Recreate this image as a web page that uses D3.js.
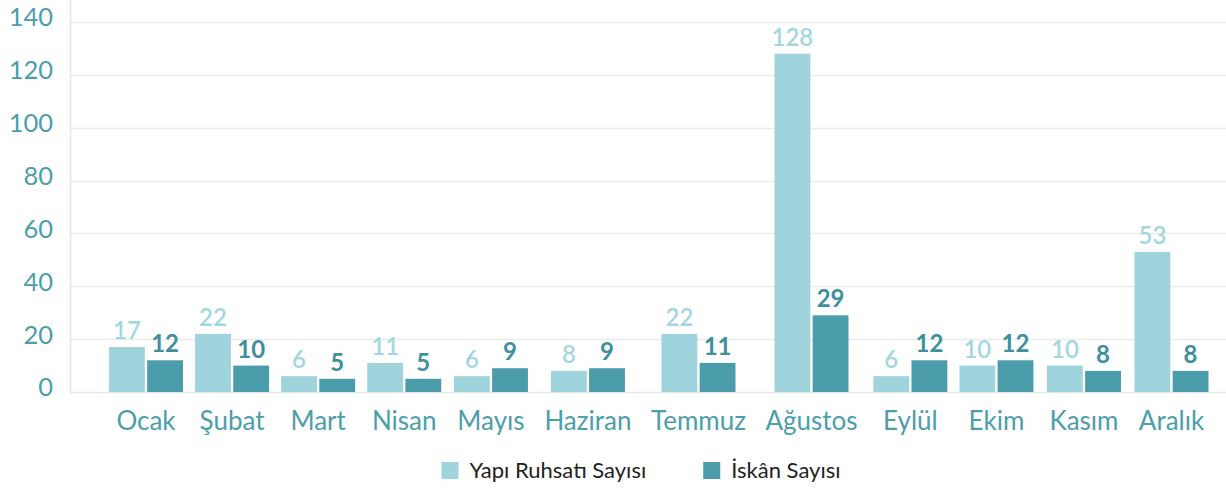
<!DOCTYPE html>
<html>
<head>
<meta charset="utf-8">
<script src="https://cdn.jsdelivr.net/npm/d3@7"></script>
<style>
  html, body { margin: 0; padding: 0; background: #fff; }
  svg { display: block; }
</style>
</head>
<body>
<svg id="chart" width="1226" height="488"></svg>
<script>
const months = ["Ocak", "Şubat", "Mart", "Nisan", "Mayıs", "Haziran", "Temmuz", "Ağustos", "Eylül", "Ekim", "Kasım", "Aralık"];
const seriesNames = ["Yapı Ruhsatı Sayısı", "İskân Sayısı"];
const yapiRuhsati = [17, 22, 6, 11, 6, 8, 22, 128, 6, 10, 10, 53];
const iskan = [12, 10, 5, 5, 9, 9, 11, 29, 12, 12, 8, 8];
const yTicks = [0, 20, 40, 60, 80, 100, 120, 140];

const colors = ["#9fd4dd", "#4b9dab"];
const labelColors = ["#a3d7e0", "#3f909d"];
const axisTextColor = "#4d9eab";
const font = "Lato, 'Open Sans', sans-serif";

const W = 1226, H = 488;
const margin = { left: 70, right: 0, top: 22, bottom: 96 };
const baseY = H - margin.bottom;

const svg = d3.select("#chart");

const y = d3.scaleLinear().domain([0, 140]).range([baseY, margin.top]);

// gridlines
svg.append("g")
  .selectAll("line")
  .data(yTicks.filter(d => d > 0))
  .join("line")
  .attr("x1", margin.left).attr("x2", W)
  .attr("y1", d => Math.round(y(d)) + 0.5).attr("y2", d => Math.round(y(d)) + 0.5)
  .attr("stroke", "#ececec").attr("stroke-width", 1.5);

// y axis
const yAxis = svg.append("g")
  .attr("transform", `translate(${margin.left},0)`)
  .call(d3.axisLeft(y).tickValues(yTicks).tickSize(0).tickPadding(17));
yAxis.select(".domain").attr("stroke", "#e6e6e6").attr("stroke-width", 1.5)
  .attr("d", `M0.5,0V${baseY + 0.5}`);
yAxis.selectAll("text")
  .attr("fill", axisTextColor)
  .attr("font-family", font)
  .attr("font-size", 25.5)
  .attr("y", -5)
  .attr("dy", "0.35em");

// baseline
svg.append("line")
  .attr("x1", margin.left).attr("x2", W)
  .attr("y1", baseY + 0.5).attr("y2", baseY + 0.5)
  .attr("stroke", "#e6e6e6").attr("stroke-width", 1.5);

// x labels: measure widths to lay out categories
const xLabelG = svg.append("g");
const xLabels = xLabelG.selectAll("text")
  .data(months)
  .join("text")
  .attr("font-family", font)
  .attr("font-size", 26)
  .attr("fill", axisTextColor)
  .attr("text-anchor", "middle")
  .text(d => d);

const widths = [];
xLabels.each(function () { widths.push(this.getComputedTextLength()); });
const gap = 22, minBand = 88;
const bands = widths.map(w => Math.max(w + gap, minBand));
const rawCenters = [];
let acc = 0;
bands.forEach((b, i) => { rawCenters.push(acc + b / 2); acc += b; });
const place = d3.scaleLinear()
  .domain([rawCenters[0], rawCenters[rawCenters.length - 1]])
  .range([146, 1171.5]);
const x = d3.scaleOrdinal().domain(months).range(rawCenters.map(place));

xLabels.attr("x", d => x(d)).attr("y", baseY + 38);

const xSub = d3.scaleBand().domain(seriesNames).range([-37, 37]).paddingInner(0.06);

const series = [yapiRuhsati, iskan];
const rows = [];
months.forEach((m, i) => {
  seriesNames.forEach((s, j) => rows.push({ m, s, j, v: series[j][i] }));
});

svg.append("g").selectAll("rect")
  .data(rows)
  .join("rect")
  .attr("x", d => x(d.m) + xSub(d.s))
  .attr("width", xSub.bandwidth())
  .attr("y", d => y(d.v))
  .attr("height", d => baseY - y(d.v))
  .attr("fill", d => colors[d.j]);

svg.append("g").selectAll("text")
  .data(rows)
  .join("text")
  .attr("x", d => x(d.m) + xSub(d.s) + xSub.bandwidth() / 2)
  .attr("y", d => y(d.v) - 8)
  .attr("text-anchor", "middle")
  .attr("font-family", font)
  .attr("font-size", 24)
  .attr("font-weight", d => d.j === 1 ? 700 : 600)
  .attr("fill", d => labelColors[d.j])
  .text(d => d.v);

// legend
const legend = svg.append("g");
const items = legend.selectAll("g")
  .data(seriesNames)
  .join("g");
items.append("rect")
  .attr("width", 17).attr("height", 17)
  .attr("y", -16)
  .attr("fill", (d, i) => colors[i]);
items.append("text")
  .attr("x", 28)
  .attr("font-family", font)
  .attr("font-size", 22)
  .attr("fill", "#222")
  .text(d => d);
let lx = 0;
const itemGap = 57;
items.each(function () {
  const w = this.getBBox().width;
  d3.select(this).attr("transform", `translate(${lx},0)`);
  lx += w + itemGap;
});
const totalW = lx - itemGap;
legend.attr("transform", `translate(${641 - totalW / 2},${H - 10})`);
</script>
</body>
</html>
